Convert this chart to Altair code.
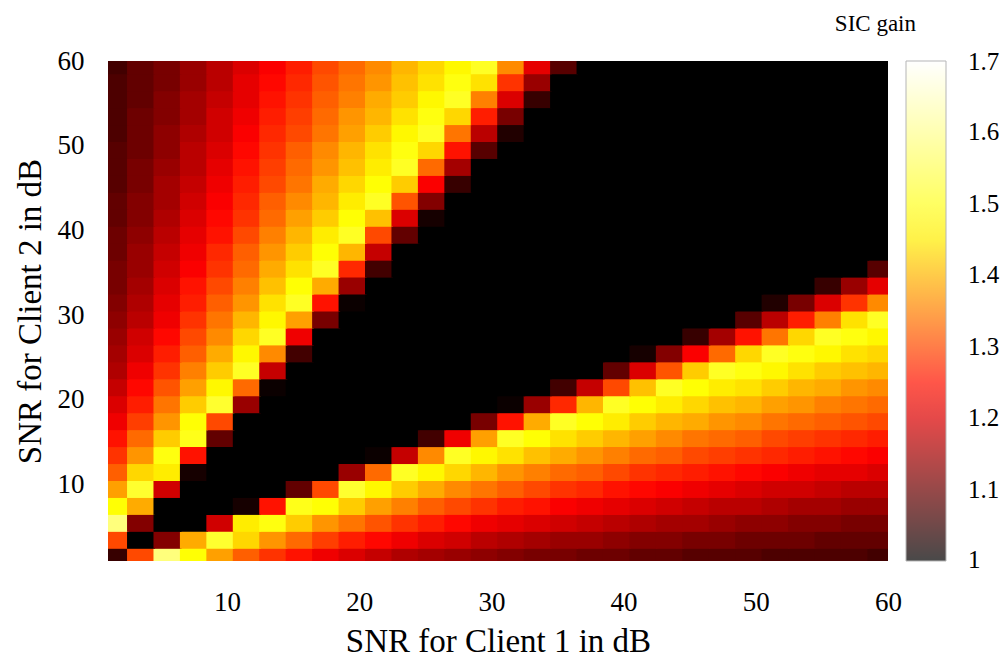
import altair as alt
import pandas as pd

# Centres (dB) of the 2-dB cells along both SNR axes
snr_centres = [1.5, 3.5, 5.5, 7.5, 9.5, 11.5, 13.5, 15.5, 17.5, 19.5,
               21.5, 23.5, 25.5, 27.5, 29.5, 31.5, 33.5, 35.5, 37.5, 39.5,
               41.5, 43.5, 45.5, 47.5, 49.5, 51.5, 53.5, 55.5, 57.5, 59.5]
# half of the 2 dB cell, plus a hair of overlap so neighbouring cells leave no seam
cell_half_width = 1.06

# SIC gain, one list per SNR-for-Client-2 row (bottom to top),
# values ordered by SNR for Client 1 (left to right)
row_y01 = [1.05,1.30,1.58,1.47,1.38,1.32,1.28,1.25,1.22,1.20,1.18,1.16,1.15,1.14,1.13,1.12,1.11,1.11,1.10,1.10,1.09,1.09,1.08,1.08,1.08,1.07,1.07,1.07,1.07,1.06]
row_y03 = [1.30,1.00,1.12,1.39,1.51,1.43,1.37,1.33,1.29,1.26,1.24,1.22,1.20,1.19,1.17,1.16,1.15,1.14,1.14,1.13,1.12,1.12,1.11,1.11,1.10,1.10,1.10,1.09,1.09,1.09]
row_y05 = [1.58,1.12,1.00,1.00,1.19,1.45,1.48,1.42,1.37,1.34,1.31,1.28,1.26,1.24,1.22,1.21,1.20,1.19,1.18,1.17,1.16,1.15,1.15,1.14,1.13,1.13,1.12,1.12,1.11,1.11]
row_y07 = [1.47,1.39,1.00,1.00,1.00,1.02,1.25,1.49,1.47,1.42,1.38,1.35,1.32,1.30,1.28,1.26,1.25,1.23,1.22,1.21,1.20,1.19,1.18,1.17,1.17,1.16,1.15,1.15,1.14,1.14]
row_y09 = [1.38,1.51,1.19,1.00,1.00,1.00,1.00,1.09,1.30,1.51,1.46,1.42,1.39,1.36,1.34,1.32,1.30,1.28,1.27,1.25,1.24,1.23,1.22,1.21,1.20,1.19,1.19,1.18,1.17,1.17]
row_y11 = [1.32,1.43,1.45,1.02,1.00,1.00,1.00,1.00,1.00,1.14,1.33,1.50,1.46,1.43,1.40,1.37,1.35,1.33,1.32,1.30,1.28,1.27,1.26,1.25,1.24,1.23,1.22,1.21,1.21,1.20]
row_y13 = [1.28,1.37,1.48,1.25,1.00,1.00,1.00,1.00,1.00,1.00,1.01,1.18,1.36,1.50,1.46,1.44,1.41,1.39,1.37,1.35,1.33,1.32,1.30,1.29,1.28,1.27,1.26,1.25,1.24,1.23]
row_y15 = [1.25,1.33,1.42,1.49,1.09,1.00,1.00,1.00,1.00,1.00,1.00,1.00,1.06,1.22,1.38,1.50,1.47,1.44,1.42,1.40,1.38,1.36,1.34,1.33,1.32,1.30,1.29,1.28,1.27,1.26]
row_y17 = [1.22,1.29,1.37,1.47,1.30,1.00,1.00,1.00,1.00,1.00,1.00,1.00,1.00,1.00,1.11,1.25,1.39,1.50,1.47,1.45,1.42,1.40,1.39,1.37,1.36,1.34,1.33,1.32,1.31,1.30]
row_y19 = [1.20,1.26,1.34,1.42,1.51,1.14,1.00,1.00,1.00,1.00,1.00,1.00,1.00,1.00,1.00,1.01,1.14,1.27,1.40,1.50,1.47,1.45,1.43,1.41,1.40,1.38,1.37,1.35,1.34,1.33]
row_y21 = [1.18,1.24,1.31,1.38,1.46,1.33,1.01,1.00,1.00,1.00,1.00,1.00,1.00,1.00,1.00,1.00,1.00,1.06,1.18,1.30,1.41,1.50,1.47,1.45,1.44,1.42,1.40,1.39,1.37,1.36]
row_y23 = [1.16,1.22,1.28,1.35,1.42,1.50,1.18,1.00,1.00,1.00,1.00,1.00,1.00,1.00,1.00,1.00,1.00,1.00,1.00,1.09,1.20,1.31,1.42,1.50,1.48,1.46,1.44,1.42,1.41,1.40]
row_y25 = [1.15,1.20,1.26,1.32,1.39,1.46,1.36,1.06,1.00,1.00,1.00,1.00,1.00,1.00,1.00,1.00,1.00,1.00,1.00,1.00,1.02,1.12,1.23,1.33,1.43,1.50,1.48,1.46,1.44,1.43]
row_y27 = [1.14,1.19,1.24,1.30,1.36,1.43,1.50,1.22,1.00,1.00,1.00,1.00,1.00,1.00,1.00,1.00,1.00,1.00,1.00,1.00,1.00,1.00,1.05,1.15,1.25,1.34,1.43,1.50,1.48,1.46]
row_y29 = [1.13,1.17,1.22,1.28,1.34,1.40,1.46,1.38,1.11,1.00,1.00,1.00,1.00,1.00,1.00,1.00,1.00,1.00,1.00,1.00,1.00,1.00,1.00,1.00,1.08,1.17,1.26,1.35,1.44,1.50]
row_y31 = [1.12,1.16,1.21,1.26,1.32,1.37,1.44,1.50,1.25,1.01,1.00,1.00,1.00,1.00,1.00,1.00,1.00,1.00,1.00,1.00,1.00,1.00,1.00,1.00,1.00,1.03,1.11,1.20,1.28,1.36]
row_y33 = [1.11,1.15,1.20,1.25,1.30,1.35,1.41,1.47,1.39,1.14,1.00,1.00,1.00,1.00,1.00,1.00,1.00,1.00,1.00,1.00,1.00,1.00,1.00,1.00,1.00,1.00,1.00,1.05,1.14,1.21]
row_y35 = [1.11,1.14,1.19,1.23,1.28,1.33,1.39,1.44,1.50,1.27,1.06,1.00,1.00,1.00,1.00,1.00,1.00,1.00,1.00,1.00,1.00,1.00,1.00,1.00,1.00,1.00,1.00,1.00,1.00,1.08]
row_y37 = [1.10,1.14,1.18,1.22,1.27,1.32,1.37,1.42,1.47,1.40,1.18,1.00,1.00,1.00,1.00,1.00,1.00,1.00,1.00,1.00,1.00,1.00,1.00,1.00,1.00,1.00,1.00,1.00,1.00,1.00]
row_y39 = [1.10,1.13,1.17,1.21,1.25,1.30,1.35,1.40,1.45,1.50,1.30,1.09,1.00,1.00,1.00,1.00,1.00,1.00,1.00,1.00,1.00,1.00,1.00,1.00,1.00,1.00,1.00,1.00,1.00,1.00]
row_y41 = [1.09,1.12,1.16,1.20,1.24,1.28,1.33,1.38,1.42,1.47,1.41,1.20,1.02,1.00,1.00,1.00,1.00,1.00,1.00,1.00,1.00,1.00,1.00,1.00,1.00,1.00,1.00,1.00,1.00,1.00]
row_y43 = [1.09,1.12,1.15,1.19,1.23,1.27,1.32,1.36,1.40,1.45,1.50,1.31,1.12,1.00,1.00,1.00,1.00,1.00,1.00,1.00,1.00,1.00,1.00,1.00,1.00,1.00,1.00,1.00,1.00,1.00]
row_y45 = [1.08,1.11,1.15,1.18,1.22,1.26,1.30,1.34,1.39,1.43,1.47,1.42,1.23,1.05,1.00,1.00,1.00,1.00,1.00,1.00,1.00,1.00,1.00,1.00,1.00,1.00,1.00,1.00,1.00,1.00]
row_y47 = [1.08,1.11,1.14,1.17,1.21,1.25,1.29,1.33,1.37,1.41,1.45,1.50,1.33,1.15,1.00,1.00,1.00,1.00,1.00,1.00,1.00,1.00,1.00,1.00,1.00,1.00,1.00,1.00,1.00,1.00]
row_y49 = [1.08,1.10,1.13,1.17,1.20,1.24,1.28,1.32,1.36,1.40,1.44,1.48,1.43,1.25,1.08,1.00,1.00,1.00,1.00,1.00,1.00,1.00,1.00,1.00,1.00,1.00,1.00,1.00,1.00,1.00]
row_y51 = [1.07,1.10,1.13,1.16,1.19,1.23,1.27,1.30,1.34,1.38,1.42,1.46,1.50,1.34,1.17,1.03,1.00,1.00,1.00,1.00,1.00,1.00,1.00,1.00,1.00,1.00,1.00,1.00,1.00,1.00]
row_y53 = [1.07,1.10,1.12,1.15,1.19,1.22,1.26,1.29,1.33,1.37,1.40,1.44,1.48,1.43,1.26,1.11,1.00,1.00,1.00,1.00,1.00,1.00,1.00,1.00,1.00,1.00,1.00,1.00,1.00,1.00]
row_y55 = [1.07,1.09,1.12,1.15,1.18,1.21,1.25,1.28,1.32,1.35,1.39,1.42,1.46,1.50,1.35,1.20,1.05,1.00,1.00,1.00,1.00,1.00,1.00,1.00,1.00,1.00,1.00,1.00,1.00,1.00]
row_y57 = [1.07,1.09,1.11,1.14,1.17,1.21,1.24,1.27,1.31,1.34,1.37,1.41,1.44,1.48,1.44,1.28,1.14,1.00,1.00,1.00,1.00,1.00,1.00,1.00,1.00,1.00,1.00,1.00,1.00,1.00]
row_y59 = [1.06,1.09,1.11,1.14,1.17,1.20,1.23,1.26,1.30,1.33,1.36,1.40,1.43,1.46,1.50,1.36,1.21,1.08,1.00,1.00,1.00,1.00,1.00,1.00,1.00,1.00,1.00,1.00,1.00,1.00]

gain_rows = [row_y01, row_y03, row_y05, row_y07, row_y09, row_y11, row_y13, row_y15,
             row_y17, row_y19, row_y21, row_y23, row_y25, row_y27, row_y29, row_y31,
             row_y33, row_y35, row_y37, row_y39, row_y41, row_y43, row_y45, row_y47,
             row_y49, row_y51, row_y53, row_y55, row_y57, row_y59]

x_ticks = [10, 20, 30, 40, 50, 60]
y_ticks = [10, 20, 30, 40, 50, 60]
# colour-bar label positions (the end ones sit a hair inside so they stay centred on the bar ends)
legend_ticks = [1.002, 1.1, 1.2, 1.3, 1.4, 1.5, 1.6, 1.698]

records = []
for j, row in enumerate(gain_rows):
    yc = snr_centres[j]
    for i, g in enumerate(row):
        xc = snr_centres[i]
        records.append({
            "x_lo": xc - cell_half_width, "x_hi": xc + cell_half_width,
            "y_lo": yc - cell_half_width, "y_hi": yc + cell_half_width,
            "gain": g,
        })
df = pd.DataFrame(records)

FONT = "Liberation Serif"
hot_domain = [1.0, 1.2333, 1.4667, 1.7]
hot_colors = ["#000000", "#ff0000", "#ffff00", "#ffffff"]

chart = alt.Chart(df).mark_rect(clip=True).encode(
    x=alt.X("x_lo:Q",
            scale=alt.Scale(domain=[1, 60], nice=False, zero=False),
            axis=alt.Axis(values=x_ticks, title="SNR for Client 1 in dB",
                          ticks=False, domain=False, grid=False, labelFlush=False,
                          labelFont=FONT, labelFontSize=27, labelColor="black",
                          labelPadding=28, titleFont=FONT, titleFontSize=33,
                          titleFontWeight="normal", titleColor="black",
                          titlePadding=10)),
    x2="x_hi:Q",
    y=alt.Y("y_lo:Q",
            scale=alt.Scale(domain=[1, 60], nice=False, zero=False),
            axis=alt.Axis(values=y_ticks, title="SNR for Client 2 in dB",
                          ticks=False, domain=False, grid=False, labelFlush=False,
                          labelFont=FONT, labelFontSize=27, labelColor="black",
                          labelPadding=24, titleFont=FONT, titleFontSize=33,
                          titleFontWeight="normal", titleColor="black",
                          titlePadding=10)),
    y2="y_hi:Q",
    color=alt.Color("gain:Q",
                    scale=alt.Scale(domain=hot_domain, range=hot_colors,
                                    interpolate="rgb"),
                    legend=alt.Legend(type="gradient", orient="none",
                                      legendX=798, legendY=0,
                                      direction="vertical", title=None,
                                      gradientLength=500, gradientThickness=40,
                                      gradientOpacity=0.71,
                                      gradientStrokeColor="#999999",
                                      gradientStrokeWidth=1,
                                      values=legend_ticks,
                                      labelExpr="datum.value < 1.05 ? '1' : format(datum.value, '.1f')",
                                      labelFont=FONT, labelFontSize=25,
                                      labelColor="black", labelOffset=22,
                                      labelBaseline="middle")),
).properties(
    width=780,
    height=500,
    padding={"left": 6, "top": 5, "right": 0, "bottom": 0},
    title=alt.TitleParams(text="SIC gain", anchor="end", frame="group", dx=28,
                          offset=11, font=FONT, fontSize=23,
                          fontWeight="normal", color="black"),
).configure_view(stroke=None)

chart.save("out.html", embed_options={"renderer": "svg", "actions": False})
